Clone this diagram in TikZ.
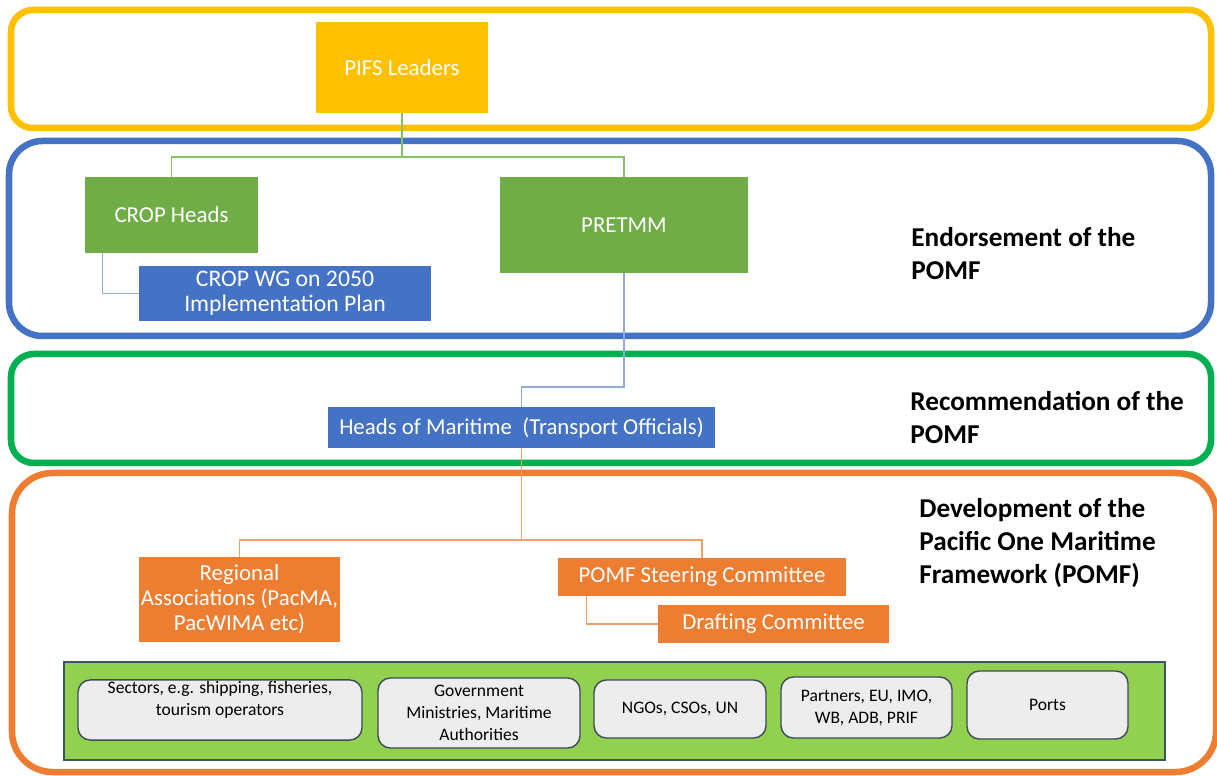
\documentclass[tikz,border=0pt]{standalone}
\usepackage{fontspec}
\setmainfont{Carlito}
\usetikzlibrary{positioning}

\definecolor{pifsyellow}{HTML}{FFC000}
\definecolor{cropgreen}{HTML}{70AD47}
\definecolor{wgblue}{HTML}{4472C4}
\definecolor{pomforange}{HTML}{ED7D31}
\definecolor{framegreen}{HTML}{00B050}
\definecolor{barlime}{HTML}{92D050}
\definecolor{boxgrey}{HTML}{EDEDED}
\definecolor{boxedge}{HTML}{3B4A5C}
\definecolor{baredge}{HTML}{3A5662}
\definecolor{linegreen}{HTML}{86BF66}
\definecolor{lineblue}{HTML}{8FAADC}
\definecolor{lineorange}{HTML}{F2A06A}

\tikzset{
  orgbox/.style={fill=#1, text=white, inner sep=1pt, align=center,
    font=\fontsize{13}{14.5}\selectfont},
  member/.style={draw=boxedge, line width=0.8pt, fill=boxgrey, rounded corners=7pt,
    align=center, inner sep=1pt, font=\fontsize{10}{12.5}\selectfont},
  layer/.style={draw=#1, line width=3.7pt},
  stage/.style={anchor=west, align=left, inner sep=0pt,
    font=\bfseries\fontsize{15.5}{18.7}\selectfont},
  tie/.style={draw=#1, line width=0.8pt}
}

\begin{document}
\begin{tikzpicture}[x=0.02cm, y=-0.02cm]
  \useasboundingbox (0,0) rectangle (1217,776);

  % layers
  \draw[layer=pifsyellow, rounded corners=12.5pt] (11,10) rectangle (1211,128);
  \draw[layer=wgblue, rounded corners=19pt] (9,141) rectangle (1211,336);
  \draw[layer=framegreen, rounded corners=13pt] (11,354) rectangle (1211,463);
  \draw[layer=pomforange, rounded corners=23pt] (12,473) rectangle (1216,772);

  \node[stage] (endorse) at (911,253.5) {Endorsement of the\\POMF};
  \node[stage] (recommend) at (910,417.5) {Recommendation of the\\POMF};
  \node[stage] (develop) at (919,543) {Development of the\\Pacific One Maritime\\Framework (POMF)};

  % organisations
  \node[orgbox=pifsyellow, minimum width=3.44cm, minimum height=1.82cm] (pifs) at (402,67.5) {PIFS Leaders};
  \node[orgbox=cropgreen, minimum width=3.46cm, minimum height=1.52cm] (crop) at (171.5,215) {CROP Heads};
  \node[orgbox=cropgreen, minimum width=4.96cm, minimum height=1.92cm] (pretmm) at (624,225) {PRETMM};
  \node[orgbox=wgblue, minimum width=5.84cm, minimum height=1.10cm,
    font=\fontsize{13.5}{14.3}\selectfont] (cropwg) at (285,293.5) {CROP WG on 2050\\Implementation Plan};
  \node[orgbox=wgblue, minimum width=7.74cm, minimum height=0.82cm] (heads) at (521.5,427.5) {Heads of Maritime~~(Transport Officials)};
  \node[orgbox=pomforange, minimum width=4.02cm, minimum height=1.70cm,
    font=\fontsize{13}{14.3}\selectfont] (regional) at (239.5,599.5) {Regional\\Associations (PacMA,\\PacWIMA etc)};
  \node[orgbox=pomforange, minimum width=5.76cm, minimum height=0.76cm] (steering) at (702,577) {POMF Steering Committee};
  \node[orgbox=pomforange, minimum width=4.62cm, minimum height=0.76cm] (drafting) at (773.5,624) {Drafting Committee};

  % stakeholders
  \node[draw=baredge, line width=0.8pt, fill=barlime, minimum width=22.02cm, minimum height=1.96cm] (bar) at (614.5,711) {};
  \node[member, minimum width=5.68cm, minimum height=1.2cm, text depth=0.45cm] (sectors) at (220,710) {Sectors, e.g. shipping, fisheries,\\tourism operators};
  \node[member, minimum width=4.04cm, minimum height=1.40cm] (govt) at (479,713) {Government\\Ministries, Maritime\\Authorities};
  \node[member, minimum width=3.44cm, minimum height=1.16cm] (ngos) at (680,709) {NGOs, CSOs, UN};
  \node[member, minimum width=3.42cm, minimum height=1.22cm] (partners) at (866.5,707.5) {Partners, EU, IMO,\\WB, ADB, PRIF};
  \node[member, minimum width=3.22cm, minimum height=1.36cm] (ports) at (1047.5,705) {Ports};

  % reporting lines
  \coordinate (pifsbus) at (402,157);
  \coordinate (pretbus) at (624,387);
  \coordinate (headbus) at (521.5,540);
  \draw[tie=linegreen] (pifs.south) -- (pifsbus) -| (crop.north);
  \draw[tie=linegreen] (pifsbus) -| (pretmm.north);
  \draw[tie=lineblue] ([xshift=0.36cm]crop.south west) |- (cropwg.west);
  \draw[tie=lineblue] (pretmm.south) -- (pretbus) -| (heads.north);
  \draw[tie=lineorange] (heads.south) -- (headbus) -| (regional.north);
  \draw[tie=lineorange] (headbus) -| (steering.north);
  \draw[tie=lineorange] ([xshift=0.58cm]steering.south west) |- (drafting.west);
\end{tikzpicture}
\end{document}
